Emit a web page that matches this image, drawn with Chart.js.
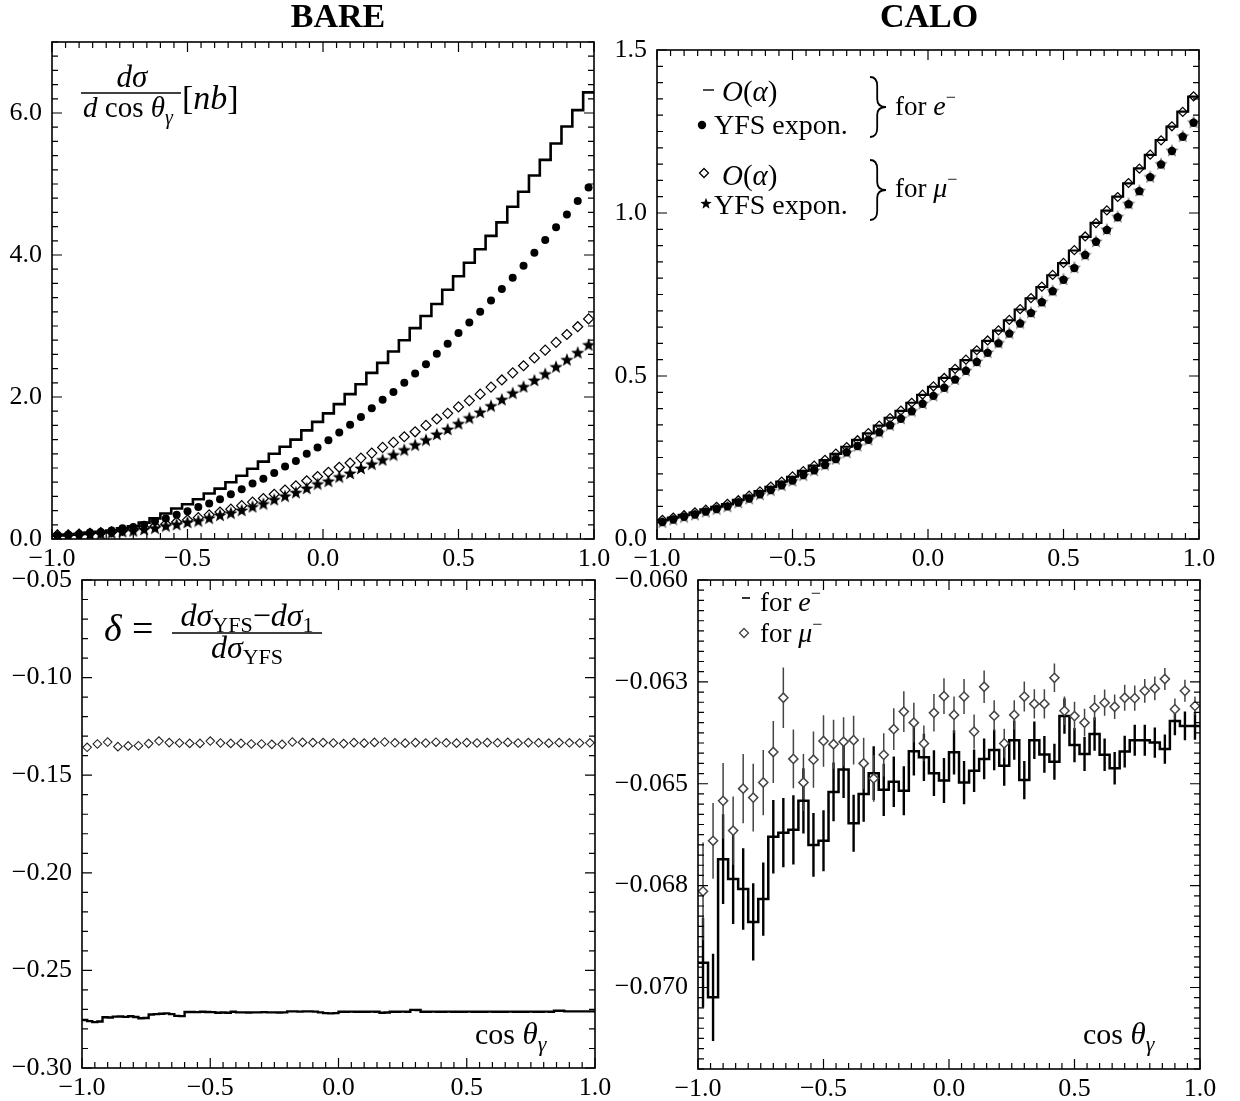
<!DOCTYPE html>
<html>
<head>
<meta charset="utf-8">
<title>BARE / CALO photon angular distributions</title>
<script src="https://cdn.jsdelivr.net/npm/chart.js@4.4.0/dist/chart.umd.min.js"></script>
<style>
  html, body { margin: 0; padding: 0; background: #fff; }
  #page { position: relative; width: 1240px; height: 1101px; }
  #page canvas { position: absolute; left: 0; top: 0; }
</style>
</head>
<body>
<div id="page">
  <canvas id="bareXsec" width="1240" height="1101"></canvas>
  <canvas id="caloXsec" width="1240" height="1101"></canvas>
  <canvas id="bareDelta" width="1240" height="1101"></canvas>
  <canvas id="caloDelta" width="1240" height="1101"></canvas>
</div>
<script>
// ---- data ---------------------------------------------------------------
// 50 bins of cos(theta_gamma) on [-1, 1]; bare-delta e- histogram uses 100 bins
const bins50 = Array.from({ length: 50 }, (_, i) => +(-0.98 + 0.04 * i).toFixed(2))

const cosTicks = [-1, -0.5, 0, 0.5, 1]
const cosTickLabels = ['−1.0', '−0.5', '0.0', '0.5', '1.0']

// BARE: dsigma/dcos [nb]
const bareTicks = [0, 2, 4, 6]
const bareTickLabels = ['0.0', '2.0', '4.0', '6.0']
const bareOalphaE = [0.05, 0.06, 0.07, 0.09, 0.10, 0.12, 0.15, 0.18, 0.23, 0.29,
    0.36, 0.43, 0.49, 0.56, 0.64, 0.71, 0.80, 0.89, 0.99, 1.09,
    1.20, 1.30, 1.40, 1.53, 1.65, 1.77, 1.90, 2.04, 2.18, 2.34,
    2.48, 2.64, 2.80, 2.97, 3.14, 3.31, 3.51, 3.70, 3.89, 4.08,
    4.27, 4.46, 4.68, 4.89, 5.12, 5.34, 5.57, 5.81, 6.04, 6.29]
const bareYfsE = [0.05, 0.06, 0.07, 0.09, 0.10, 0.12, 0.15, 0.17, 0.20, 0.25,
    0.29, 0.34, 0.39, 0.45, 0.50, 0.56, 0.63, 0.70, 0.78, 0.85,
    0.93, 1.02, 1.10, 1.20, 1.29, 1.39, 1.50, 1.61, 1.72, 1.84,
    1.96, 2.07, 2.20, 2.33, 2.46, 2.61, 2.75, 2.90, 3.05, 3.20,
    3.36, 3.52, 3.68, 3.85, 4.03, 4.21, 4.39, 4.57, 4.76, 4.95]
const bareOalphaMu = [0.06, 0.06, 0.07, 0.08, 0.09, 0.10, 0.12, 0.14, 0.16, 0.18,
    0.21, 0.24, 0.27, 0.30, 0.34, 0.38, 0.42, 0.47, 0.52, 0.57,
    0.63, 0.69, 0.75, 0.82, 0.88, 0.94, 1.01, 1.07, 1.14, 1.21,
    1.29, 1.36, 1.44, 1.51, 1.60, 1.69, 1.77, 1.86, 1.95, 2.04,
    2.14, 2.24, 2.34, 2.44, 2.55, 2.66, 2.77, 2.88, 2.99, 3.10]
const bareYfsMu = [0.05, 0.05, 0.06, 0.07, 0.08, 0.09, 0.11, 0.12, 0.14, 0.16,
    0.19, 0.21, 0.24, 0.26, 0.30, 0.34, 0.37, 0.41, 0.46, 0.50,
    0.56, 0.61, 0.66, 0.72, 0.78, 0.82, 0.88, 0.93, 1.00, 1.06,
    1.12, 1.19, 1.26, 1.33, 1.40, 1.48, 1.55, 1.63, 1.71, 1.79,
    1.88, 1.97, 2.06, 2.15, 2.24, 2.33, 2.43, 2.53, 2.63, 2.74]

// CALO: dsigma/dcos [nb]
const caloTicks = [0, 0.5, 1, 1.5]
const caloTickLabels = ['0.0', '0.5', '1.0', '1.5']
const caloOalphaE = [0.058, 0.066, 0.074, 0.081, 0.091, 0.099, 0.107, 0.120, 0.133, 0.147,
    0.160, 0.176, 0.191, 0.209, 0.225, 0.242, 0.261, 0.283, 0.304, 0.324,
    0.348, 0.372, 0.393, 0.418, 0.442, 0.467, 0.494, 0.521, 0.549, 0.578,
    0.608, 0.639, 0.671, 0.704, 0.738, 0.773, 0.809, 0.846, 0.885, 0.927,
    0.970, 1.007, 1.050, 1.091, 1.137, 1.178, 1.224, 1.265, 1.311, 1.357]
const caloYfsE = [0.052, 0.060, 0.068, 0.075, 0.084, 0.092, 0.100, 0.112, 0.124, 0.137,
    0.150, 0.165, 0.179, 0.196, 0.211, 0.227, 0.245, 0.266, 0.285, 0.304,
    0.327, 0.349, 0.369, 0.392, 0.415, 0.439, 0.464, 0.489, 0.516, 0.543,
    0.571, 0.600, 0.630, 0.661, 0.693, 0.726, 0.760, 0.795, 0.831, 0.871,
    0.912, 0.948, 0.987, 1.027, 1.067, 1.110, 1.149, 1.190, 1.234, 1.277]
const caloOalphaMu = [0.059, 0.066, 0.073, 0.082, 0.090, 0.099, 0.108, 0.119, 0.133, 0.146,
    0.161, 0.176, 0.192, 0.208, 0.225, 0.243, 0.262, 0.282, 0.303, 0.325,
    0.348, 0.371, 0.394, 0.418, 0.443, 0.468, 0.494, 0.522, 0.550, 0.579,
    0.609, 0.640, 0.672, 0.705, 0.739, 0.774, 0.810, 0.847, 0.886, 0.928,
    0.969, 1.008, 1.049, 1.092, 1.136, 1.179, 1.223, 1.266, 1.310, 1.358]
const caloYfsMu = [0.053, 0.061, 0.069, 0.076, 0.085, 0.093, 0.101, 0.113, 0.125, 0.138,
    0.151, 0.166, 0.180, 0.197, 0.212, 0.229, 0.247, 0.267, 0.287, 0.306,
    0.329, 0.351, 0.371, 0.394, 0.417, 0.441, 0.466, 0.491, 0.518, 0.546,
    0.574, 0.603, 0.633, 0.664, 0.696, 0.729, 0.763, 0.798, 0.834, 0.873,
    0.914, 0.951, 0.990, 1.030, 1.070, 1.112, 1.152, 1.193, 1.237, 1.280]

// BARE: delta = (dsig_YFS - dsig_1) / dsig_YFS
const bareDeltaTicks = [-0.30, -0.25, -0.20, -0.15, -0.10, -0.05]
const bareDeltaTickLabels = ['−0.30', '−0.25', '−0.20', '−0.15', '−0.10', '−0.05']
const bareDeltaE = [-0.2754, -0.2760, -0.2765, -0.2762, -0.2740, -0.2741, -0.2737, -0.2736, -0.2738, -0.2735,
    -0.2739, -0.2745, -0.2744, -0.2726, -0.2724, -0.2722, -0.2720, -0.2724, -0.2733, -0.2734,
    -0.2713, -0.2713, -0.2714, -0.2712, -0.2713, -0.2714, -0.2717, -0.2716, -0.2717, -0.2712,
    -0.2715, -0.2715, -0.2716, -0.2715, -0.2715, -0.2714, -0.2715, -0.2715, -0.2716, -0.2715,
    -0.2710, -0.2710, -0.2711, -0.2710, -0.2710, -0.2711, -0.2715, -0.2719, -0.2720, -0.2719,
    -0.2712, -0.2712, -0.2711, -0.2712, -0.2712, -0.2712, -0.2711, -0.2712, -0.2717, -0.2716,
    -0.2712, -0.2712, -0.2711, -0.2712, -0.2702, -0.2703, -0.2712, -0.2712, -0.2711, -0.2712,
    -0.2712, -0.2711, -0.2712, -0.2712, -0.2712, -0.2711, -0.2712, -0.2712, -0.2712, -0.2711,
    -0.2712, -0.2712, -0.2712, -0.2711, -0.2712, -0.2712, -0.2712, -0.2711, -0.2712, -0.2712,
    -0.2711, -0.2712, -0.2707, -0.2707, -0.2710, -0.2710, -0.2710, -0.2710, -0.2710, -0.2710]
const bareDeltaMu = [-0.1357, -0.1340, -0.1330, -0.1354, -0.1350, -0.1349, -0.1338, -0.1325, -0.1333, -0.1335,
    -0.1337, -0.1337, -0.1325, -0.1335, -0.1337, -0.1337, -0.1340, -0.1340, -0.1342, -0.1342,
    -0.1330, -0.1332, -0.1333, -0.1333, -0.1335, -0.1338, -0.1333, -0.1336, -0.1332, -0.1330,
    -0.1334, -0.1336, -0.1333, -0.1335, -0.1331, -0.1334, -0.1336, -0.1333, -0.1335, -0.1333,
    -0.1334, -0.1332, -0.1335, -0.1333, -0.1334, -0.1336, -0.1333, -0.1334, -0.1335, -0.1334]
const bareDeltaMuErr = 0.0012

// CALO: delta with statistical errors
const caloDeltaTicks = [-0.070, -0.0675, -0.065, -0.0625, -0.060]
const caloDeltaTickLabels = ['−0.070', '−0.068', '−0.065', '−0.063', '−0.060']
const caloDeltaE = [-0.06939, -0.07024, -0.06685, -0.06734, -0.06758, -0.06839, -0.06783, -0.06630, -0.06620, -0.06613,
    -0.06542, -0.06650, -0.06640, -0.06520, -0.06465, -0.06597, -0.06525, -0.06474, -0.06515, -0.06495,
    -0.06517, -0.06420, -0.06435, -0.06474, -0.06492, -0.06423, -0.06497, -0.06468, -0.06439, -0.06417,
    -0.06456, -0.06393, -0.06491, -0.06393, -0.06428, -0.06446, -0.06334, -0.06405, -0.06427, -0.06378,
    -0.06429, -0.06462, -0.06421, -0.06393, -0.06393, -0.06399, -0.06415, -0.06346, -0.06358, -0.06358]
const caloDeltaEErr = [0.0011, 0.00107, 0.0011, 0.0011, 0.001, 0.00095, 0.0009, 0.0009, 0.00085, 0.00085,
    0.0008, 0.00078, 0.00075, 0.00072, 0.0007, 0.0007, 0.00068, 0.00066, 0.00064, 0.00062,
    0.0006, 0.0006, 0.00058, 0.00056, 0.00055, 0.00054, 0.00053, 0.00052, 0.0005, 0.0005,
    0.00049, 0.00048, 0.00047, 0.00046, 0.00045, 0.00044, 0.00043, 0.00042, 0.00042, 0.00041,
    0.0004, 0.0004, 0.00039, 0.00038, 0.00038, 0.00037, 0.00036, 0.00035, 0.00035, 0.00034]
const caloDeltaMu = [-0.06764, -0.06640, -0.06542, -0.06615, -0.06512, -0.06534, -0.06497, -0.06422, -0.06289, -0.06439,
    -0.06497, -0.06441, -0.06395, -0.06403, -0.06397, -0.06393, -0.06450, -0.06487, -0.06429, -0.06366,
    -0.06323, -0.06350, -0.06401, -0.06326, -0.06285, -0.06331, -0.06286, -0.06372, -0.06262, -0.06333,
    -0.06401, -0.06331, -0.06286, -0.06304, -0.06304, -0.06240, -0.06321, -0.06334, -0.06350, -0.06313,
    -0.06301, -0.06311, -0.06289, -0.06290, -0.06272, -0.06266, -0.06243, -0.06317, -0.06272, -0.06309]
const caloDeltaMuErr = [0.0012, 0.00093, 0.00093, 0.00084, 0.00085, 0.00083, 0.0008, 0.00076, 0.00074, 0.00072,
    0.0007, 0.00069, 0.00063, 0.0006, 0.0006, 0.0006, 0.00063, 0.00057, 0.00053, 0.00051,
    0.0005, 0.00049, 0.00044, 0.00046, 0.00044, 0.00045, 0.00043, 0.00042, 0.0004, 0.00038,
    0.00036, 0.00036, 0.00037, 0.00036, 0.00036, 0.00035, 0.00035, 0.00035, 0.00034, 0.00031,
    0.00032, 0.0003, 0.00032, 0.00031, 0.00029, 0.00029, 0.00027, 0.00026, 0.00027, 0.00023]

// ---- helpers ------------------------------------------------------------
const FONT = "'Liberation Serif', 'DejaVu Serif', serif"
const W = 1240, H = 1101
const X_AXIS_H = 40
const rm = s => `${s}px ${FONT}`
const it = s => `italic ${s}px ${FONT}`

// histogram outline: one point per left bin edge plus the closing edge
function histo(values, lo = -1, hi = 1) {
    const w = (hi - lo) / values.length
    const pts = values.map((v, i) => ({ x: lo + i * w, y: v }))
    pts.push({ x: hi, y: values[values.length - 1] })
    return pts
}

function pts(xs, ys) {
    return ys.map((y, i) => ({ x: xs[i], y }))
}

function withErr(xs, ys, es) {
    return ys.map((y, i) => ({ x: xs[i], y, e: Array.isArray(es) ? es[i] : es }))
}

function range(min, max, step) {
    const out = []
    for (let v = min; v <= max + step / 2; v += step) out.push(+v.toFixed(6))
    return out
}

function starImage(size, color) {
    const c = document.createElement('canvas')
    c.width = c.height = size
    const g = c.getContext('2d')
    const r = size / 2, ri = r * 0.42
    g.beginPath()
    for (let k = 0; k < 10; k++) {
        const rad = k % 2 ? ri : r
        const ang = -Math.PI / 2 + k * Math.PI / 5
        g.lineTo(r + rad * Math.cos(ang), r + rad * Math.sin(ang) + 0.8)
    }
    g.closePath()
    g.fillStyle = color
    g.fill()
    return c
}

// text runs: [text, font, baseline shift]
function runs(ctx, parts, x, y) {
    let cx = x
    parts.forEach(([t, f, dy = 0]) => {
        ctx.font = f
        ctx.fillText(t, cx, y + dy)
        cx += ctx.measureText(t).width
    })
    return cx - x
}

function runsWidth(ctx, parts) {
    return parts.reduce((w, [t, f]) => { ctx.font = f; return w + ctx.measureText(t).width }, 0)
}

function centered(ctx, parts, cx, y) {
    runs(ctx, parts, cx - runsWidth(ctx, parts) / 2, y)
}

function hline(ctx, x0, x1, y, lw) {
    ctx.lineWidth = lw
    ctx.beginPath()
    ctx.moveTo(x0, y)
    ctx.lineTo(x1, y)
    ctx.stroke()
}

function brace(ctx, x, top, bottom, w) {
    const mid = (top + bottom) / 2, xm = x + w * 0.45
    ctx.lineWidth = 1.8
    ctx.beginPath()
    ctx.moveTo(x, top)
    ctx.quadraticCurveTo(xm, top, xm, top + 9)
    ctx.lineTo(xm, mid - 8)
    ctx.quadraticCurveTo(xm, mid, x + w, mid)
    ctx.quadraticCurveTo(xm, mid, xm, mid + 8)
    ctx.lineTo(xm, bottom - 9)
    ctx.quadraticCurveTo(xm, bottom, x, bottom)
    ctx.stroke()
}

function diamond(ctx, x, y, r, color) {
    ctx.lineWidth = 1.3
    ctx.strokeStyle = color
    ctx.beginPath()
    ctx.moveTo(x, y - r); ctx.lineTo(x + r, y); ctx.lineTo(x, y + r); ctx.lineTo(x - r, y)
    ctx.closePath()
    ctx.stroke()
    ctx.strokeStyle = '#000'
}

function title(ctx, text, cx) {
    ctx.font = `bold 34px ${FONT}`
    ctx.textAlign = 'center'
    ctx.fillText(text, cx, 27)
    ctx.textAlign = 'left'
}

const cosTheta = [['cos ', rm(30)], ['θ', it(31)], ['γ', it(22), 7]]
const forLepton = sym => [['for ', rm(27)], [sym, it(28)], ['−', rm(18), -12]]

// frame with inward major/minor ticks on all four sides
function frameTicks(cfg) {
    return {
        id: 'frameTicks',
        afterDatasetsDraw(chart) {
            const { ctx, chartArea: a, scales: { x, y } } = chart
            ctx.save()
            ctx.strokeStyle = '#000'
            ctx.lineWidth = 1.2
            ctx.beginPath()
            const xMarks = (vals, len) => vals.forEach(v => {
                const px = x.getPixelForValue(v)
                ctx.moveTo(px, a.bottom); ctx.lineTo(px, a.bottom - len)
                ctx.moveTo(px, a.top); ctx.lineTo(px, a.top + len)
            })
            const yMarks = (vals, len) => vals.forEach(v => {
                const py = y.getPixelForValue(v)
                ctx.moveTo(a.left, py); ctx.lineTo(a.left + len, py)
                ctx.moveTo(a.right, py); ctx.lineTo(a.right - len, py)
            })
            xMarks(range(x.min, x.max, cfg.xMinor), 6)
            xMarks(cfg.xMajor, 10)
            yMarks(range(y.min, y.max, cfg.yMinor), 6)
            yMarks(cfg.yMajor, 10)
            ctx.stroke()
            ctx.lineWidth = 1.6
            ctx.strokeRect(a.left, a.top, a.right - a.left, a.bottom - a.top)
            ctx.restore()
        }
    }
}

// vertical error bars for datasets carrying errBars
const errorBars = {
    id: 'errorBars',
    beforeDatasetsDraw(chart) {
        const { ctx, chartArea: a, scales: { x, y } } = chart
        ctx.save()
        ctx.beginPath()
        ctx.rect(a.left, a.top, a.right - a.left, a.bottom - a.top)
        ctx.clip()
        chart.data.datasets.forEach(ds => {
            if (!ds.errBars) return
            ctx.strokeStyle = ds.errColor
            ctx.lineWidth = ds.errWidth
            ctx.beginPath()
            ds.errBars.forEach(p => {
                const px = x.getPixelForValue(p.x)
                ctx.moveTo(px, y.getPixelForValue(p.y - p.e))
                ctx.lineTo(px, y.getPixelForValue(p.y + p.e))
            })
            ctx.stroke()
        })
        ctx.restore()
    }
}

function notes(draw) {
    return {
        id: 'notes',
        afterDraw(chart) {
            const ctx = chart.ctx
            ctx.save()
            ctx.fillStyle = '#000'
            ctx.strokeStyle = '#000'
            ctx.textBaseline = 'alphabetic'
            ctx.textAlign = 'left'
            draw(ctx)
            ctx.restore()
        }
    }
}

function axis(ax, dir, size) {
    return {
        type: 'linear',
        min: ax.min,
        max: ax.max,
        afterBuildTicks: s => { s.ticks = ax.ticks.map(v => ({ value: v })) },
        afterFit: s => { if (dir === 'x') s.height = size; else s.width = size },
        grid: { display: false, drawTicks: false },
        border: { display: false },
        ticks: {
            autoSkip: false,
            maxRotation: 0,
            minRotation: 0,
            padding: dir === 'x' ? 5 : 10,
            color: '#000',
            font: { family: FONT, size: 26 },
            callback: (v, i) => ax.labels[i]
        }
    }
}

function panel(id, area, cfg) {
    // y scale takes all the room left of the plot so its labels are not clipped
    const yw = Math.min(area.left, 110)
    return new Chart(document.getElementById(id), {
        type: 'scatter',
        data: { datasets: cfg.datasets },
        options: {
            responsive: false,
            animation: false,
            events: [],
            layout: {
                padding: {
                    left: area.left - yw,
                    top: area.top,
                    right: W - area.right,
                    bottom: H - area.bottom - X_AXIS_H
                }
            },
            plugins: { legend: { display: false }, tooltip: { enabled: false } },
            scales: { x: axis(cfg.x, 'x', X_AXIS_H), y: axis(cfg.y, 'y', yw) }
        },
        plugins: [errorBars, frameTicks(cfg.frame), notes(cfg.notes)]
    })
}

const stepLine = (values, width, order) => ({
    data: histo(values),
    showLine: true,
    stepped: true,
    borderColor: '#000',
    borderWidth: width,
    pointRadius: 0,
    order
})

const markers = (data, style, radius, order, extra = {}) => Object.assign({
    data,
    showLine: false,
    pointStyle: style,
    pointRadius: radius,
    pointBackgroundColor: '#000',
    pointBorderColor: '#000',
    pointBorderWidth: 1.2,
    order
}, extra)

const cosX = { min: -1, max: 1, ticks: cosTicks, labels: cosTickLabels }

// ---- BARE cross section -------------------------------------------------
panel('bareXsec', { left: 52, top: 42, right: 594, bottom: 539 }, {
    x: cosX,
    y: { min: 0, max: 7, ticks: bareTicks, labels: bareTickLabels },
    frame: { xMajor: cosTicks, xMinor: 0.05, yMajor: bareTicks, yMinor: 0.2 },
    datasets: [
        stepLine(bareOalphaE, 2.6, 4),
        markers(pts(bins50, bareOalphaMu), 'rectRot', 5, 3, { pointBackgroundColor: '#fff' }),
        markers(pts(bins50, bareYfsMu), starImage(14, '#000'), 7, 2),
        markers(pts(bins50, bareYfsE), 'circle', 4, 1, { pointBorderWidth: 0 })
    ],
    notes: ctx => {
        title(ctx, 'BARE', 338)
        centered(ctx, [['dσ', it(31)]], 132, 87)
        hline(ctx, 81, 181, 93, 1.4)
        centered(ctx, [['d', it(29)], [' cos ', rm(29)], ['θ', it(29)], ['γ', it(20), 7]], 128, 117)
        runs(ctx, [['[', rm(34)], ['nb', it(34)], [']', rm(34)]], 182, 109)
    }
})

// ---- CALO cross section -------------------------------------------------
panel('caloXsec', { left: 657, top: 50, right: 1199, bottom: 539 }, {
    x: cosX,
    y: { min: 0, max: 1.5, ticks: caloTicks, labels: caloTickLabels },
    frame: { xMajor: cosTicks, xMinor: 0.05, yMajor: caloTicks, yMinor: 0.05 },
    datasets: [
        stepLine(caloOalphaE, 2.2, 1),
        markers(pts(bins50, caloOalphaMu), 'rectRot', 4.5, 2, { pointBackgroundColor: 'rgba(0,0,0,0)' }),
        markers(pts(bins50, caloYfsMu), starImage(14, '#666'), 7, 4),
        markers(pts(bins50, caloYfsE), 'circle', 4.2, 3, { pointBorderWidth: 0 })
    ],
    notes: ctx => {
        title(ctx, 'CALO', 929)
        const oAlpha = [['O', it(29)], ['(', rm(29)], ['α', it(29)], [')', rm(29)]]
        const expon = [['YFS expon.', rm(28)]]
        hline(ctx, 703, 714, 90, 1.4)
        runs(ctx, oAlpha, 722, 101)
        ctx.beginPath(); ctx.arc(702, 125, 4.2, 0, Math.PI * 2); ctx.fill()
        runs(ctx, expon, 714, 134)
        brace(ctx, 870, 77, 137, 16)
        runs(ctx, forLepton('e'), 895, 115)

        diamond(ctx, 704, 173, 4.5, '#000')
        runs(ctx, oAlpha, 722, 185)
        ctx.drawImage(starImage(12, '#000'), 700, 197)
        runs(ctx, expon, 714, 214)
        brace(ctx, 870, 160, 220, 16)
        runs(ctx, forLepton('μ'), 895, 197)
    }
})

// ---- BARE delta ---------------------------------------------------------
panel('bareDelta', { left: 82, top: 580, right: 595, bottom: 1068 }, {
    x: cosX,
    y: { min: -0.30, max: -0.05, ticks: bareDeltaTicks, labels: bareDeltaTickLabels },
    frame: { xMajor: cosTicks, xMinor: 0.05, yMajor: bareDeltaTicks, yMinor: 0.01 },
    datasets: [
        stepLine(bareDeltaE, 2.4, 2),
        markers(pts(bins50, bareDeltaMu), 'rectRot', 4.3, 1, {
            pointBackgroundColor: '#fff', pointBorderColor: '#222', pointBorderWidth: 1.1,
            errBars: withErr(bins50, bareDeltaMu, bareDeltaMuErr),
            errColor: '#000', errWidth: 1
        })
    ],
    notes: ctx => {
        runs(ctx, [['δ', it(38)]], 104, 641)
        runs(ctx, [['=', rm(38)]], 132, 641)
        const sub = rm(22)
        const num = [['dσ', it(32)], ['YFS', sub, 6], ['−', rm(32)], ['dσ', it(32)], ['1', sub, 6]]
        centered(ctx, num, 247, 626)
        hline(ctx, 172, 322, 633, 1.5)
        centered(ctx, [['dσ', it(32)], ['YFS', sub, 6]], 247, 658)
        runs(ctx, cosTheta, 475, 1044)
    }
})

// ---- CALO delta ---------------------------------------------------------
panel('caloDelta', { left: 698, top: 580, right: 1200, bottom: 1069 }, {
    x: cosX,
    y: { min: -0.072, max: -0.060, ticks: caloDeltaTicks, labels: caloDeltaTickLabels },
    frame: { xMajor: cosTicks, xMinor: 0.05, yMajor: caloDeltaTicks, yMinor: 0.00025 },
    datasets: [
        Object.assign(stepLine(caloDeltaE, 2.5, 2), {
            errBars: withErr(bins50, caloDeltaE, caloDeltaEErr), errColor: '#000', errWidth: 2.4
        }),
        markers(pts(bins50, caloDeltaMu), 'rectRot', 4.6, 1, {
            pointBackgroundColor: '#fff', pointBorderColor: '#444', pointBorderWidth: 1.5,
            errBars: withErr(bins50, caloDeltaMu, caloDeltaMuErr), errColor: '#444', errWidth: 1.5
        })
    ],
    notes: ctx => {
        hline(ctx, 742, 750, 598, 1.6)
        runs(ctx, forLepton('e'), 760, 611)
        diamond(ctx, 744, 633, 4.5, '#444')
        runs(ctx, forLepton('μ'), 760, 642)
        runs(ctx, cosTheta, 1083, 1044)
    }
})
</script>
</body>
</html>
